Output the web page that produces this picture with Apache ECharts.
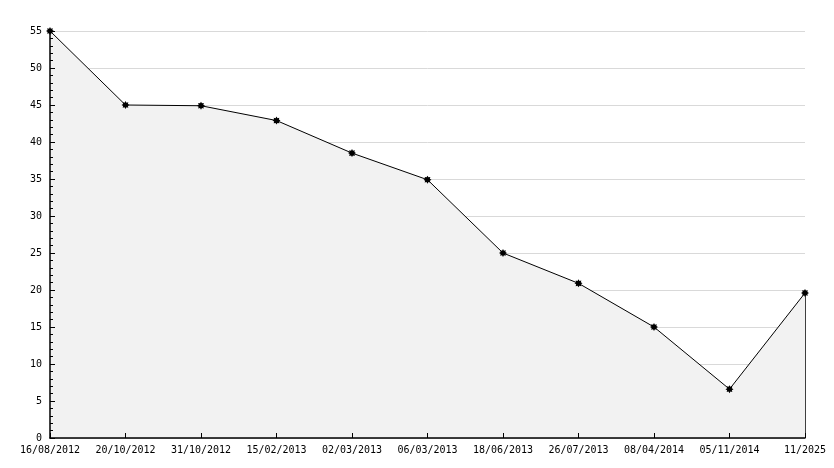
<!DOCTYPE html>
<html>
<head>
<meta charset="utf-8">
<script src="https://cdn.jsdelivr.net/npm/echarts@6/dist/echarts.min.js"></script>
<style>html,body{margin:0;padding:0;background:#fff}#c{width:834px;height:468px}</style>
</head>
<body>
<div id="c"></div>
<script>
var categories = ['16/08/2012','20/10/2012','31/10/2012','15/02/2013','02/03/2013','06/03/2013','18/06/2013','26/07/2013','08/04/2014','05/11/2014','11/2025'];
var values = [55, 45, 44.9, 42.9, 38.5, 34.9, 25, 20.9, 15, 6.6, 19.6];
var yMin = 0, yMax = 55, yStep = 5;

var font = 'DejaVu Sans Mono';
var chart = echarts.init(document.getElementById('c'), null, {renderer: 'canvas'});
var lastIdx = categories.length - 1;
var starPath = 'path://M5,0 L6.22,2.04 L8.54,1.46 L7.96,3.78 L10,5 L7.96,6.22 L8.54,8.54 L6.22,7.96 L5,10 L3.78,7.96 L1.46,8.54 L2.04,6.22 L0,5 L2.04,3.78 L1.46,1.46 L3.78,2.04 Z';
chart.setOption({
  animation: false,
  backgroundColor: '#ffffff',
  grid: {left: 50, right: 29, top: 31, bottom: 30, containLabel: false},
  xAxis: [{
    type: 'category',
    data: categories,
    boundaryGap: false,
    z: 10,
    axisLine: {lineStyle: {color: '#000', width: 1.5}},
    axisTick: {inside: true, length: 5, lineStyle: {color: '#000', width: 1}, alignWithLabel: true},
    axisLabel: {color: '#000', fontFamily: font, fontSize: 10, margin: 7, interval: 0},
    splitLine: {show: false}
  }],
  yAxis: [{
    type: 'value',
    min: yMin, max: yMax, interval: yStep,
    z: 0,
    axisLine: {show: false},
    axisTick: {show: false},
    axisLabel: {show: false},
    splitLine: {show: true, lineStyle: {color: '#d9d9d9', width: 1}}
  }, {
    type: 'value',
    position: 'left',
    min: yMin, max: yMax, interval: yStep,
    z: 10,
    axisLine: {show: true, lineStyle: {color: '#000', width: 1.5}},
    axisTick: {show: true, inside: true, length: 5, lineStyle: {color: '#000', width: 1}},
    minorTick: {show: true, splitNumber: 5, length: 3, lineStyle: {color: '#000', width: 1}},
    axisLabel: {color: '#000', fontFamily: font, fontSize: 10, margin: 8},
    splitLine: {show: false}
  }],
  series: [{
    type: 'line',
    data: values,
    yAxisIndex: 0,
    clip: false,
    symbol: starPath,
    symbolSize: 8,
    z: 5,
    itemStyle: {color: '#000'},
    lineStyle: {color: '#000', width: 1},
    areaStyle: {color: '#f2f2f2', opacity: 1},
    markLine: {
      silent: true,
      symbol: 'none',
      label: {show: false},
      lineStyle: {color: '#000', width: 1.5, type: 'solid', opacity: 1},
      data: [[{coord: [lastIdx, yMin]}, {coord: [lastIdx, values[lastIdx]]}]]
    }
  }]
});
</script>
</body>
</html>
